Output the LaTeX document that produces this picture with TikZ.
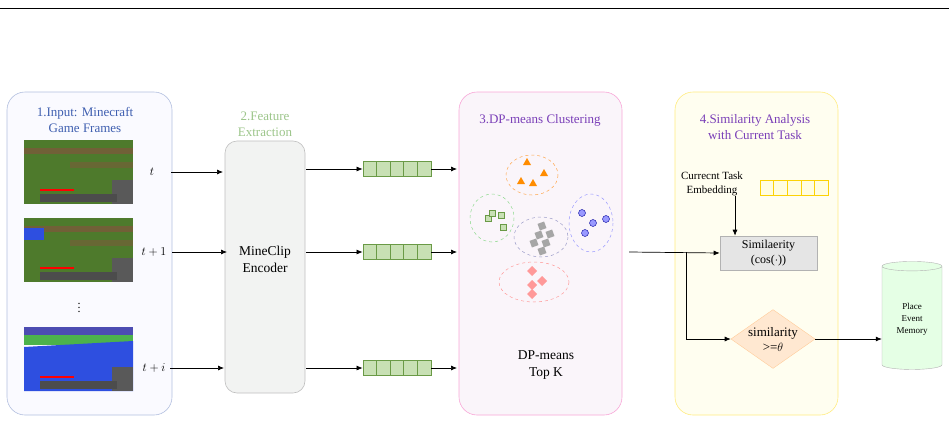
\documentclass[tikz,border=0pt]{standalone}
\usepackage{fontspec}
\setmainfont{Liberation Serif}
\usetikzlibrary{shapes.geometric,arrows.meta}
\definecolor{tblue}{HTML}{3F5FB0}
\definecolor{tgreen}{HTML}{9CC58A}
\definecolor{tpurple}{HTML}{7A3FB8}
\definecolor{vfill}{HTML}{C8E0B4}
\definecolor{vdraw}{HTML}{6A9A46}
\definecolor{grass}{HTML}{4E7A2C}
\definecolor{dirt}{HTML}{7A5A3A}
\definecolor{water}{HTML}{2E4FE0}
\tikzset{
 panel/.style={draw, rounded corners=18pt, line width=0.6pt},
 arr/.style={-{Latex[length=6pt,width=5pt]}, line width=0.7pt},
 cell/.style={draw=vdraw, fill=vfill, line width=0.8pt, minimum width=13.6pt, minimum height=15pt, inner sep=0pt},
 ycell/.style={draw=yellow!70!orange, fill=yellow!12, line width=0.6pt, minimum width=13.6pt, minimum height=15pt, inner sep=0pt},
 ttl/.style={font=\fontsize{13}{16}\selectfont, align=center},
 txt/.style={font=\fontsize{12}{15}\selectfont, align=center},
 clus/.style={draw, dashed, line width=0.5pt},
}
\begin{document}
\begin{tikzpicture}[x=1pt,y=-1pt]
\useasboundingbox (0,0) rectangle (949,423);
\draw[line width=0.5pt] (0,8) -- (949,8);
% panel 1
\draw[panel, draw=tblue!40, fill=blue!2] (7,92) rectangle (172,415);
\node[ttl, text=tblue] (t1) at (85,120) {1.Input: Minecraft\\Game Frames};
\foreach \y/\w in {140/0,218/0,327/1}{
 \ifnum\w=0
  \fill[grass] (24,\y) rectangle (133,\y+64);
  \fill[dirt!80!grass] (24,\y+8) rectangle (133,\y+14);
  \fill[dirt!60!grass] (70,\y+22) rectangle (133,\y+28);
 \else
  \fill[green!40!gray] (24,\y) rectangle (133,\y+18);
  \fill[blue!40!gray] (24,\y) rectangle (133,\y+8);
  \fill[water] (24,\y+20) -- (133,\y+14) -- (133,\y+64) -- (24,\y+64) -- cycle;
 \fi
 \fill[gray!70!black] (112,\y+40) rectangle (133,\y+64);
 \fill[red] (40,\y+49) rectangle (74,\y+51);
 \fill[black!70] (40,\y+54) rectangle (117,\y+62);
}
\fill[water] (24,228) rectangle (44,240);
\node[font=\large, inner sep=0pt] (dots) at (79,305) {$\vdots$};
\node[txt] (l1) at (152,172) {$t$};
\node[txt] (l2) at (154,252) {$t+1$};
\node[txt] (l3) at (154,368) {$t+i$};
% encoder
\node[ttl, text=tgreen] (t2) at (265,124) {2.Feature\\Extraction};
\draw[draw=gray!50, fill=green!3!gray!10, rounded corners=12pt, line width=0.6pt] (225,141) rectangle (305,393);
\node[txt, font=\fontsize{13.5}{17}\selectfont] (enc) at (265,259) {MineClip\\Encoder};
\coordinate (eL1) at (223,172); \coordinate (eL2) at (227,252); \coordinate (eL3) at (224,368);
\draw[arr] (171,172) -- (eL1);
\draw[arr] (172,252) -- (eL2);
\draw[arr] (170,368) -- (eL3);
\foreach \k/\y in {1/169,2/252,3/368}{
 \foreach \i in {0,...,4}{ \node[cell] (v\k c\i) at (369.8+\i*13.6,\y) {}; }
 \coordinate (eR\k) at (306,\y);
 \draw[arr] (eR\k) -- (v\k c0.west);
 \coordinate (p\k) at (457,\y);
 \draw[arr] (v\k c4.east) -- (p\k);
}
% panel 3
\draw[panel, draw=magenta!35, fill=violet!4] (459,92) rectangle (622,415);
\node[ttl, text=tpurple] (t3) at (540,120) {3.DP-means Clustering};
\draw[clus, draw=orange!70] (532,175) ellipse (26 and 20);
\draw[clus, draw=green!50!gray!60] (492,218) ellipse (22 and 24);
\draw[clus, draw=blue!30!gray!60] (541,237) ellipse (27 and 20);
\draw[clus, draw=blue!40] (591,223) ellipse (22 and 29);
\draw[clus, draw=red!40] (534,282) ellipse (35 and 20);
\foreach \x/\y in {527/162,544/173,521/181,533/183}
 \fill[orange!90!yellow] (\x-4,\y+3) -- (\x+4,\y+3) -- (\x,\y-4) -- cycle;
\foreach \x/\y in {488/218,492/213,501/215,503/227}
 \draw[vdraw, fill=vfill] (\x-3.2,\y-3.2) rectangle (\x+3.2,\y+3.2);
\foreach \x/\y in {582/213,593/223,606/219,585/233}
 \draw[blue!60!black, fill=blue!40!white] (\x,\y) circle (3.5);
\foreach \x/\y in {542/226,539/235,550/234,534/243,546/243,542/251}
 \fill[gray!70, rotate around={20:(\x,\y)}] (\x-3.5,\y-3.5) rectangle (\x+3.5,\y+3.5);
\foreach \x/\y in {532/271,542/281,532/285,532/294}
 \fill[red!40] (\x-5,\y) -- (\x,\y-5) -- (\x+5,\y) -- (\x,\y+5) -- cycle;
\node[txt, font=\fontsize{13.5}{17}\selectfont] (dp) at (546,365) {DP-means\\Top K};
% panel 4
\draw[panel, draw=orange!30!yellow!50, fill=yellow!6] (675,92) rectangle (838,415);
\node[ttl, text=tpurple] (t4) at (755,127) {4.Similarity Analysis\\with Current Task};
\node[txt, font=\fontsize{11}{14}\selectfont] (cte) at (712,184) {Currecnt Task\\Embedding};
\foreach \i in {0,...,4}{ \node[ycell] (y\i) at (766.8+\i*13.6,188) {}; }
\node[draw=gray!60, fill=gray!20, minimum width=97pt, minimum height=34pt, txt, line width=0.6pt] (sim) at (768.5,253) {Similaerity\\(cos($\cdot$))};
\draw[arr] (735,196) -- (sim.north -| 735,0);
\coordinate (src) at (629,252);
\coordinate (br) at (686,252);
\draw[arr] (src) -- (sim.west);
\node[diamond, draw=orange!40, fill=orange!18, minimum width=80pt, minimum height=56pt, inner sep=0pt, aspect=1.43, txt, font=\fontsize{13}{15}\selectfont] (dia) at (773,339) {similarity\\>=$\theta$};
\draw[arr] (br) |- (dia.west);
\node[cylinder, shape border rotate=90, draw=gray!60, fill=green!10, minimum width=60pt, minimum height=108pt, aspect=0.25, txt, font=\fontsize{9}{12}\selectfont] (mem) at (912,319) {Place\\Event\\Memory};
\draw[arr] (dia.east) -- (dia.east -| mem.west);
\end{tikzpicture}
\end{document}
